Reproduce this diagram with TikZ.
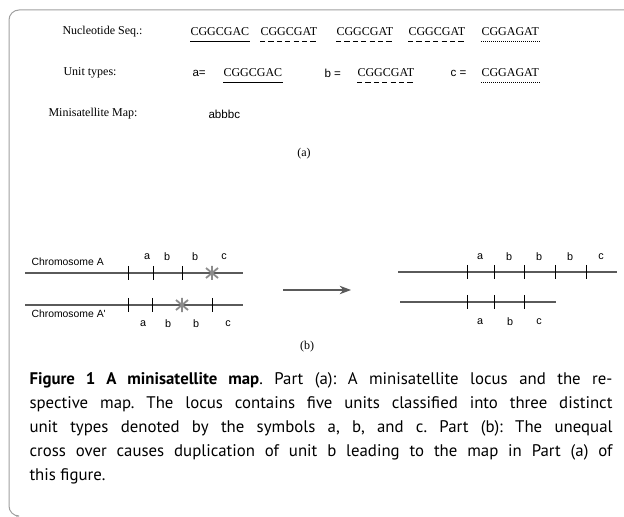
\documentclass[tikz,border=0pt]{standalone}
\usepackage{fontspec}
\setmainfont{Liberation Serif}
\newfontfamily\capfont{PT Sans}
\newfontfamily\lblfont{Liberation Sans}
\usetikzlibrary{arrows.meta}
\definecolor{framegray}{HTML}{A0A0A0}
\definecolor{chromgray}{HTML}{5A5A5A}
\definecolor{stargray}{HTML}{8C8C8C}
\begin{document}
\begin{tikzpicture}[x=.5pt,y=-.5pt,>=Stealth,line width=.5pt,
  txt/.style={inner sep=0pt,anchor=west,font=\fontsize{6}{7}\selectfont},
  sans/.style={inner sep=0pt,anchor=west,font=\lblfont\fontsize{5.8}{7}\selectfont},
  unit/.style={inner sep=0pt,font=\lblfont\fontsize{5.4}{6}\selectfont},
  chrom/.style={chromgray,line width=.7pt},
  tick/.style={line width=.45pt},
  xover/.style={stargray,line width=.9pt}]
  \useasboundingbox (0,0) rectangle (624,517);
  \draw[framegray,rounded corners=5pt] (624,10)--(9,10)--(9,516)--(16,516);
  % part (a)
  \node[txt] (seqlbl) at (62,32) {Nucleotide Seq.:};
  \node[txt] (s1) at (190,32) {CGGCGAC};
  \node[txt] (s2) at (260,32) {CGGCGAT};
  \node[txt] (s3) at (336,32) {CGGCGAT};
  \node[txt] (s4) at (408,32) {CGGCGAT};
  \node[txt] (s5) at (481,32) {CGGAGAT};
  \draw ([yshift=-2.5pt]s1.south west)--([yshift=-2.5pt]s1.south east);
  \draw[dash pattern=on 2.6pt off 1.6pt] ([yshift=-2.5pt]s2.south west)--([yshift=-2.5pt]s2.south east);
  \draw[dash pattern=on 2.6pt off 1.6pt] ([yshift=-2.5pt]s3.south west)--([yshift=-2.5pt]s3.south east);
  \draw[dash pattern=on 2.6pt off 1.6pt] ([yshift=-2.5pt]s4.south west)--([yshift=-2.5pt]s4.south east);
  \draw[dash pattern=on .4pt off .6pt] ([yshift=-2.5pt]s5.south west)--([yshift=-2.5pt]s5.south east);
  \node[txt] (unitlbl) at (63,73) {Unit types:};
  \node[sans] (ua) at (192,73) {a=};
  \node[txt] (uaseq) at (223,73) {CGGCGAC};
  \node[sans] (ub) at (324,73) {b =};
  \node[txt] (ubseq) at (357,73) {CGGCGAT};
  \node[sans] (uc) at (450,73) {c =};
  \node[txt] (ucseq) at (481,73) {CGGAGAT};
  \draw ([yshift=-2.5pt]uaseq.south west)--([yshift=-2.5pt]uaseq.south east);
  \draw[dash pattern=on 2.6pt off 1.6pt] ([yshift=-2.5pt]ubseq.south west)--([yshift=-2.5pt]ubseq.south east);
  \draw[dash pattern=on .4pt off .6pt] ([yshift=-2.5pt]ucseq.south west)--([yshift=-2.5pt]ucseq.south east);
  \node[txt] (maplbl) at (48,114) {Minisatellite Map:};
  \node[sans] (mapval) at (208,114) {abbbc};
  \node[txt,anchor=center] (parta) at (304,154) {(a)};
  % part (b)
  \coordinate (chAl) at (25,273);
  \coordinate (chAr) at (243,273);
  \coordinate (chBl) at (25,305);
  \coordinate (chBr) at (243,305);
  \coordinate (outAl) at (398,272);
  \coordinate (outAr) at (617,272);
  \coordinate (outBl) at (400,302);
  \coordinate (outBr) at (556,302);
  \coordinate (arrl) at (283,290);
  \coordinate (arrr) at (351,290);
  \draw[chrom] (chAl)--(chAr);
  \draw[chrom] (chBl)--(chBr);
  \draw[chrom] (outAl)--(outAr);
  \draw[chrom] (outBl)--(outBr);
  \draw[tick] (128,266)--(128,280) (153,266)--(153,280) (182,266)--(182,280);
  \draw[tick] (128,298)--(128,312) (152,298)--(152,312) (212,298)--(212,312);
  \draw[tick] (467,265)--(467,279) (494,265)--(494,279) (524,265)--(524,279) (555,265)--(555,279) (586,265)--(586,279);
  \draw[tick] (467,295)--(467,309) (494,295)--(494,309) (524,295)--(524,309);
  \draw[xover] (212,266)--(212,280) (206,268)--(218,278) (218,268)--(206,278);
  \draw[xover] (182,298)--(182,312) (176,300)--(188,310) (188,300)--(176,310);
  \draw[->,chromgray,line width=.6pt] (arrl)--(arrr);
  \node[sans,font=\lblfont\fontsize{5.2}{6}\selectfont] (chA) at (31,262) {Chromosome A};
  \node[sans,font=\lblfont\fontsize{5.2}{6}\selectfont] (chB) at (31,314) {Chromosome A'};
  \node[unit] (ta1) at (147,257) {a};
  \node[unit] (ta2) at (167,257) {b};
  \node[unit] (ta3) at (195,257) {b};
  \node[unit] (ta4) at (224,257) {c};
  \node[unit] (tb1) at (143,324) {a};
  \node[unit] (tb2) at (168,324) {b};
  \node[unit] (tb3) at (196,324) {b};
  \node[unit] (tb4) at (228,324) {c};
  \node[unit] (oa1) at (480,257) {a};
  \node[unit] (oa2) at (509,257) {b};
  \node[unit] (oa3) at (539,257) {b};
  \node[unit] (oa4) at (570,257) {b};
  \node[unit] (oa5) at (601,257) {c};
  \node[unit] (ob1) at (480,322) {a};
  \node[unit] (ob2) at (510,322) {b};
  \node[unit] (ob3) at (539,322) {c};
  \node[txt,anchor=center] (partb) at (307,347) {(b)};
  % caption
  \node[anchor=north west,inner sep=0pt,text width=291.5pt,align=justify,
    font=\capfont\fontsize{8.4}{12}\selectfont\frenchspacing] (cap) at (29,372)
    {\textbf{Figure 1 A minisatellite map}. Part (a): A minisatellite locus and the re-\linebreak
     spective map. The locus contains five units classified into three distinct\linebreak
     unit types denoted by the symbols a, b, and c. Part (b): The unequal\linebreak
     cross over causes duplication of unit b leading to the map in Part (a) of\linebreak
     this figure.};
\end{tikzpicture}
\end{document}
